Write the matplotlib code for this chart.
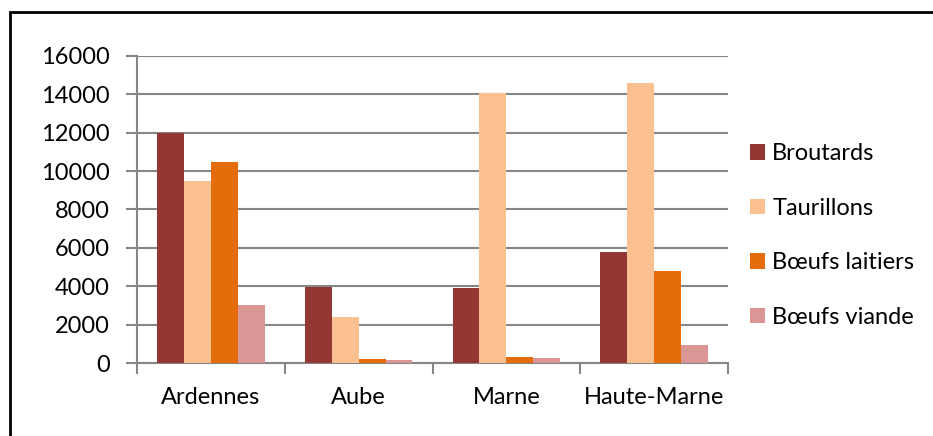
import numpy as np
import matplotlib.pyplot as plt
from matplotlib.patches import Rectangle

# données
departements = ['Ardennes', 'Aube', 'Marne', 'Haute-Marne']
series = ['Broutards', 'Taurillons', 'Bœufs laitiers', 'Bœufs viande']
broutards = [12000, 3950, 3900, 5800]
taurillons = [9500, 2400, 14050, 14600]
boeufs_laitiers = [10500, 230, 330, 4800]
boeufs_viande = [3000, 180, 260, 960]
couleurs = ['#943634', '#FAC090', '#E46C0A', '#D99694']
yticks = [0, 2000, 4000, 6000, 8000, 10000, 12000, 14000, 16000]

plt.rcParams['font.family'] = ['Lato', 'DejaVu Sans']
fs = 17

fig = plt.figure(figsize=(9.33, 4.36), dpi=100)
ax = fig.add_axes([137 / 933, 1 - 363 / 436, (728 - 137) / 933, (363 - 56) / 436])

# cadre extérieur
fig.patches.append(Rectangle((10 / 933, -0.1), 1.2, 1 - 12 / 436 + 0.1, transform=fig.transFigure,
                             fill=False, edgecolor='black', linewidth=2))

valeurs = [broutards, taurillons, boeufs_laitiers, boeufs_viande]
x = np.arange(len(departements))
w = 0.182
for i, (nom, v) in enumerate(zip(series, valeurs)):
    ax.bar(x + (i - 1.5) * w, v, width=w, color=couleurs[i], label=nom, zorder=3)

ax.set_xlim(-0.5, 3.5)
ax.set_ylim(0, 16000)
ax.set_yticks(yticks)
ax.set_yticklabels([str(t) for t in yticks], fontsize=fs)
ax.yaxis.grid(True, color='#868686', linewidth=1.5, zorder=0)
ax.set_axisbelow(True)

# ticks x aux limites des catégories
ax.set_xticks(np.arange(-0.5, 4, 1))
ax.set_xticklabels([])
ax.set_xticks(x, minor=True)
ax.set_xticklabels(departements, minor=True, fontsize=fs)
ax.tick_params(axis='x', which='major', length=8, width=1.5, color='#868686', direction='out')
ax.tick_params(axis='x', which='minor', length=0, pad=17)
ax.tick_params(axis='y', length=8, width=1.5, color='#868686', direction='out', pad=11.5)

for s in ['top', 'right']:
    ax.spines[s].set_visible(False)
for s in ['left', 'bottom']:
    ax.spines[s].set_color('#868686')
    ax.spines[s].set_linewidth(1.5)

leg = fig.legend(loc='center left', bbox_to_anchor=(750 / 933, 1 - 235.5 / 436), frameon=False,
                 fontsize=fs, handlelength=0.64, handleheight=0.64, handletextpad=0.3,
                 labelspacing=1.42, borderpad=0, borderaxespad=0)

fig.savefig('out.png', dpi=100)
